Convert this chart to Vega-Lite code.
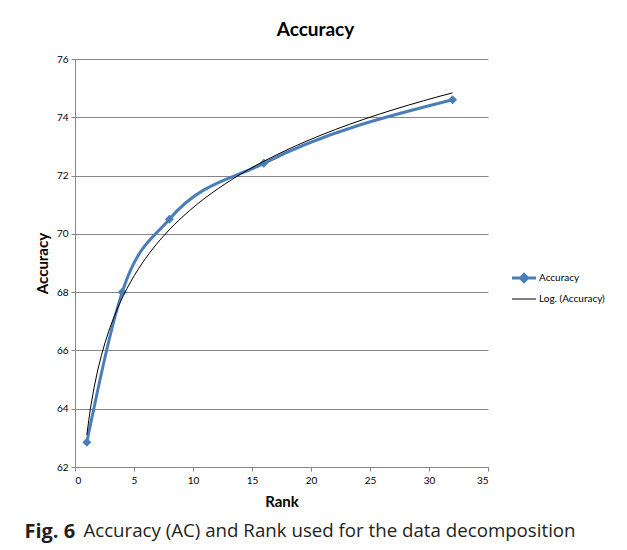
{
  "$schema": "https://vega.github.io/schema/vega-lite/v6.json",
  "padding": {"left": 24, "top": 21, "right": 0, "bottom": 5},
  "background": "white",
  "config": {
    "font": "Lato",
    "view": {"stroke": null},
    "concat": {"spacing": 0},
    "axis": {
      "labelFont": "Lato",
      "labelFontSize": 10,
      "labelColor": "#000000",
      "titleFont": "Lato",
      "titleFontSize": 15,
      "titleFontWeight": "bold",
      "titleColor": "#000000",
      "domainColor": "#868686",
      "tickColor": "#868686",
      "gridColor": "#868686",
      "tickSize": 4
    }
  },
  "datasets": {
    "acc": [
      {"Rank": 1, "Accuracy": 62.85},
      {"Rank": 4, "Accuracy": 68.0},
      {"Rank": 8, "Accuracy": 70.5},
      {"Rank": 16, "Accuracy": 72.42},
      {"Rank": 32, "Accuracy": 74.6}
    ]
  },
  "title": {
    "text": "Fig. 6",
    "orient": "bottom",
    "anchor": "start",
    "font": "Open Sans",
    "fontSize": 20,
    "fontWeight": "bold",
    "color": "#231f20",
    "dx": -11,
    "offset": -19
  },
  "vconcat": [
    {
      "title": {
        "text": "Accuracy (AC) and Rank used for the data decomposition",
        "orient": "bottom",
        "anchor": "start",
        "font": "Open Sans",
        "fontSize": 18.7,
        "fontWeight": "normal",
        "color": "#231f20",
        "dx": 48,
        "offset": 13
      },
      "vconcat": [
        {
          "title": {
            "text": "Accuracy",
            "font": "Lato",
            "fontSize": 19,
            "fontWeight": "bold",
            "color": "#000000",
            "dx": 34,
            "offset": 14
          },
          "width": 413,
          "height": 408,
          "data": {"name": "acc"},
          "encoding": {
            "x": {
              "field": "Rank",
              "type": "quantitative",
              "scale": {"domain": [0, 35], "nice": false, "zero": false},
              "axis": {"values": [0, 5, 10, 15, 20, 25, 30, 35], "grid": false, "title": "Rank", "labelPadding": 4, "titlePadding": 9}
            },
            "y": {
              "field": "Accuracy",
              "type": "quantitative",
              "scale": {"domain": [62, 76], "nice": false, "zero": false},
              "axis": {"values": [62, 64, 66, 68, 70, 72, 74, 76], "grid": true, "title": "Accuracy", "labelPadding": 3, "titlePadding": 6}
            }
          },
          "layer": [
            {
              "mark": {"type": "line", "interpolate": "monotone", "strokeWidth": 3},
              "encoding": {
                "color": {
                  "datum": "Accuracy",
                  "type": "nominal",
                  "scale": {"domain": ["Accuracy", "Log. (Accuracy)"], "range": ["#4A7EBB", "#000000"]},
                  "legend": {
                    "title": null,
                    "orient": "none",
                    "legendX": 444,
                    "legendY": 214,
                    "labelFont": "Lato",
                    "labelFontSize": 10,
                    "labelColor": "#000000",
                    "labelOffset": 10,
                    "rowPadding": 6,
                    "symbolSize": 576,
                    "encode": {
                      "symbols": {
                        "update": {
                          "shape": {"signal": "datum.value == 'Accuracy' ? 'M-1,0H1M-0.3,0L0,-0.3L0.3,0L0,0.3Z' : 'M-1,0H1'"},
                          "size": {"value": 576},
                          "fill": {"signal": "datum.value == 'Accuracy' ? '#4A7EBB' : 'transparent'"},
                          "stroke": {"signal": "datum.value == 'Accuracy' ? '#4A7EBB' : '#000000'"},
                          "strokeWidth": {"signal": "datum.value == 'Accuracy' ? 3 : 1"},
                          "opacity": {"value": 1}
                        }
                      }
                    }
                  }
                }
              }
            },
            {
              "mark": {"type": "point", "shape": "diamond", "filled": true, "size": 80, "opacity": 1},
              "encoding": {"color": {"datum": "Accuracy", "type": "nominal"}}
            },
            {
              "transform": [{"regression": "Accuracy", "on": "Rank", "method": "log", "extent": [1, 32]}],
              "mark": {"type": "line", "strokeWidth": 1},
              "encoding": {"color": {"datum": "Log. (Accuracy)", "type": "nominal"}}
            }
          ]
        }
      ]
    }
  ]
}
